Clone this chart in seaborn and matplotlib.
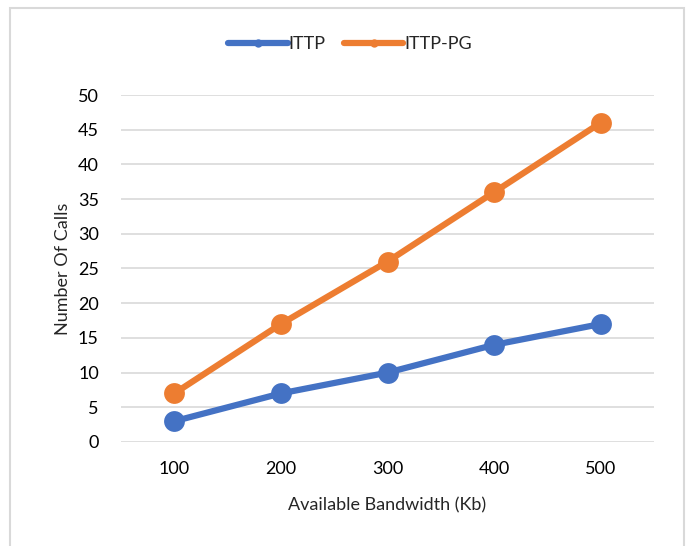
import seaborn as sns
import pandas as pd
import matplotlib.pyplot as plt
from matplotlib.patches import Rectangle

bandwidth = ['100', '200', '300', '400', '500']
ittp = [3, 7, 10, 14, 17]
ittp_pg = [7, 17, 26, 36, 46]
series_names = ['ITTP', 'ITTP-PG']
colors = ['#4472C4', '#ED7D31']

df = pd.DataFrame({
    'Bandwidth': bandwidth * 2,
    'Calls': ittp + ittp_pg,
    'Series': [series_names[0]] * len(ittp) + [series_names[1]] * len(ittp_pg),
})

sns.set_style('white')
plt.rcParams['font.family'] = ['Lato', 'DejaVu Sans']

fig = plt.figure(figsize=(6.88, 5.46), dpi=100)
ax = fig.add_axes([0.1759, 0.1905, 0.7747, 0.6355])

sns.lineplot(data=df, x='Bandwidth', y='Calls', hue='Series', palette=colors,
             marker='o', markersize=15, markeredgewidth=0, linewidth=4.5,
             ax=ax, sort=False)

ax.set_xlim(-0.5, 4.5)
ax.set_ylim(0, 50)
ax.set_yticks(range(0, 51, 5))
ax.yaxis.grid(True, color='#D9D9D9', linewidth=1.2)
ax.set_axisbelow(True)
for s in ax.spines.values():
    s.set_visible(False)
ax.tick_params(axis='both', length=0, labelsize=13, colors='#000000')
ax.tick_params(axis='x', pad=14)
ax.tick_params(axis='y', pad=16)
ax.set_xlabel('Available Bandwidth (Kb)', fontsize=13, labelpad=14)
ax.set_ylabel('Number Of Calls', fontsize=13, labelpad=5)

ax.legend(title=None, loc='center', bbox_to_anchor=(0.509, 0.919),
          bbox_transform=fig.transFigure, ncol=2,
          frameon=False, fontsize=13, handlelength=3.3, handletextpad=0.05,
          columnspacing=1.0, markerscale=0.4)

fig.patches.append(Rectangle((10 / 688, -0.01), 674 / 688, 1 - 8 / 546 + 0.01,
                             transform=fig.transFigure, fill=False,
                             edgecolor='#D9D9D9', linewidth=1.5))

fig.savefig('out.png', dpi=100)
